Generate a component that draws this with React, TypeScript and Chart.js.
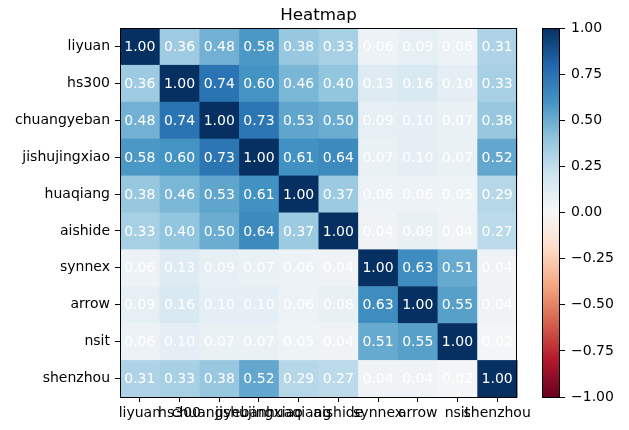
import React, { useEffect, useRef } from 'react';
import { Chart, registerables } from 'chart.js';

Chart.register(...registerables);

const titleText = 'Heatmap';
const labels = ['liyuan', 'hs300', 'chuangyeban', 'jishujingxiao', 'huaqiang', 'aishide', 'synnex', 'arrow', 'nsit', 'shenzhou'];

const rowLiyuan = [1.0, 0.36, 0.48, 0.58, 0.38, 0.33, 0.06, 0.09, 0.06, 0.31];
const rowHs300 = [0.36, 1.0, 0.74, 0.6, 0.46, 0.4, 0.13, 0.16, 0.1, 0.33];
const rowChuangyeban = [0.48, 0.74, 1.0, 0.73, 0.53, 0.5, 0.09, 0.1, 0.07, 0.38];
const rowJishujingxiao = [0.58, 0.6, 0.73, 1.0, 0.61, 0.64, 0.07, 0.1, 0.07, 0.52];
const rowHuaqiang = [0.38, 0.46, 0.53, 0.61, 1.0, 0.37, 0.06, 0.06, 0.05, 0.29];
const rowAishide = [0.33, 0.4, 0.5, 0.64, 0.37, 1.0, 0.04, 0.08, 0.04, 0.27];
const rowSynnex = [0.06, 0.13, 0.09, 0.07, 0.06, 0.04, 1.0, 0.63, 0.51, 0.04];
const rowArrow = [0.09, 0.16, 0.1, 0.1, 0.06, 0.08, 0.63, 1.0, 0.55, 0.04];
const rowNsit = [0.06, 0.1, 0.07, 0.07, 0.05, 0.04, 0.51, 0.55, 1.0, 0.02];
const rowShenzhou = [0.31, 0.33, 0.38, 0.52, 0.29, 0.27, 0.04, 0.04, 0.02, 1.0];

const matrix = [rowLiyuan, rowHs300, rowChuangyeban, rowJishujingxiao, rowHuaqiang, rowAishide, rowSynnex, rowArrow, rowNsit, rowShenzhou];

const colorbarTicks = [-1.0, -0.75, -0.5, -0.25, 0.0, 0.25, 0.5, 0.75, 1.0];

const RDBU = ['#67001f', '#b2182b', '#d6604d', '#f4a582', '#fddbc7', '#f7f7f7', '#d1e5f0', '#92c5de', '#4393c3', '#2166ac', '#053061'];

function hexToRgb(h: string) {
  const n = parseInt(h.slice(1), 16);
  return [(n >> 16) & 255, (n >> 8) & 255, n & 255];
}

function rdbu(v: number) {
  let t = (v + 1) / 2;
  t = Math.max(0, Math.min(1, t));
  const pos = t * (RDBU.length - 1);
  const i = Math.min(Math.floor(pos), RDBU.length - 2);
  const f = pos - i;
  const a = hexToRgb(RDBU[i]);
  const b = hexToRgb(RDBU[i + 1]);
  const c = a.map((x, k) => Math.round(x + (b[k] - x) * f));
  return `rgb(${c[0]},${c[1]},${c[2]})`;
}

const FONT = 'DejaVu Sans';

const heatPlugin = {
  id: 'heatPlugin',
  beforeDatasetsDraw(chart: any) {
    const { ctx } = chart;
    const xs = chart.scales.x;
    const ys = chart.scales.y;
    const pts = chart.data.datasets[0].data as any[];
    ctx.save();
    for (const p of pts) {
      const xi = labels.indexOf(p.x);
      const yi = labels.indexOf(p.y);
      const x0 = xs.getPixelForValue(xi - 0.5);
      const x1 = xs.getPixelForValue(xi + 0.5);
      const y0 = ys.getPixelForValue(yi - 0.5);
      const y1 = ys.getPixelForValue(yi + 0.5);
      ctx.fillStyle = rdbu(p.v);
      const l = Math.min(x0, x1), t = Math.min(y0, y1);
      ctx.fillRect(l, t, Math.abs(x1 - x0) + 0.5, Math.abs(y1 - y0) + 0.5);
    }
    ctx.fillStyle = '#ffffff';
    ctx.font = `14px "${FONT}"`;
    ctx.textAlign = 'center';
    ctx.textBaseline = 'middle';
    for (const p of pts) {
      const xi = labels.indexOf(p.x);
      const yi = labels.indexOf(p.y);
      ctx.fillText(p.v.toFixed(2), xs.getPixelForValue(xi), ys.getPixelForValue(yi) + 1);
    }
    ctx.restore();
  },
  afterDraw(chart: any) {
    const { ctx, chartArea: a } = chart;
    ctx.save();
    ctx.strokeStyle = '#000';
    ctx.lineWidth = 1;
    ctx.strokeRect(Math.round(a.left) + 0.5, Math.round(a.top) + 0.5, Math.round(a.right - a.left) - 1, Math.round(a.bottom - a.top));
    ctx.fillStyle = '#000';
    ctx.font = `16.7px "${FONT}"`;
    ctx.textAlign = 'center';
    ctx.textBaseline = 'alphabetic';
    ctx.fillText(titleText, (a.left + a.right) / 2, 20);
    ctx.restore();
  },
};

const cbPlugin = {
  id: 'cbPlugin',
  beforeDatasetsDraw(chart: any) {
    const { ctx, chartArea: a } = chart;
    const g = ctx.createLinearGradient(0, a.bottom, 0, a.top);
    RDBU.forEach((c, i) => g.addColorStop(i / (RDBU.length - 1), c));
    ctx.save();
    ctx.fillStyle = g;
    ctx.fillRect(a.left, a.top, a.right - a.left, a.bottom - a.top);
    ctx.restore();
  },
  afterDraw(chart: any) {
    const { ctx, chartArea: a } = chart;
    ctx.save();
    ctx.strokeStyle = '#000';
    ctx.lineWidth = 1;
    ctx.strokeRect(Math.round(a.left) + 0.5, Math.round(a.top) + 0.5, Math.round(a.right - a.left) - 1, Math.round(a.bottom - a.top));
    ctx.restore();
  },
};

export default function App() {
  const mainRef = useRef<HTMLCanvasElement>(null);
  const cbRef = useRef<HTMLCanvasElement>(null);

  useEffect(() => {
    const points: any[] = [];
    matrix.forEach((row, i) => {
      row.forEach((v, j) => {
        points.push({ x: labels[j], y: labels[i], v });
      });
    });
    const tickFont = { family: FONT, size: 14 };
    const main = new Chart(mainRef.current as HTMLCanvasElement, {
      type: 'scatter',
      data: { datasets: [{ data: points, pointRadius: 0, pointHoverRadius: 0 } as any] },
      options: {
        responsive: false,
        animation: false,
        events: [],
        layout: { padding: { left: 0, right: 112, top: 28, bottom: 0 } },
        plugins: { legend: { display: false }, tooltip: { enabled: false }, title: { display: false } },
        scales: {
          x: {
            type: 'category',
            labels,
            offset: true,
            position: 'bottom',
            grid: { offset: false, drawOnChartArea: false, drawTicks: true, tickLength: 5, color: '#000' },
            border: { display: false },
            ticks: { autoSkip: false, maxRotation: 0, minRotation: 0, padding: 3, color: '#000', font: tickFont },
            afterFit: (s: any) => { s.height = 33; },
          } as any,
          y: {
            type: 'category',
            labels,
            offset: true,
            position: 'left',
            grid: { offset: false, drawOnChartArea: false, drawTicks: true, tickLength: 5, color: '#000' },
            border: { display: false },
            ticks: { autoSkip: false, padding: 5, color: '#000', font: tickFont },
            afterFit: (s: any) => { s.width = 120; },
          } as any,
        },
      },
      plugins: [heatPlugin],
    });

    const cb = new Chart(cbRef.current as HTMLCanvasElement, {
      type: 'scatter',
      data: { datasets: [{ data: [], pointRadius: 0 } as any] },
      options: {
        responsive: false,
        animation: false,
        events: [],
        layout: { padding: { left: 12, right: 9, top: 28, bottom: 33 } },
        plugins: { legend: { display: false }, tooltip: { enabled: false } },
        scales: {
          x: { display: false, min: 0, max: 1 },
          y: {
            type: 'linear',
            position: 'right',
            min: -1,
            max: 1,
            grid: { drawOnChartArea: false, drawTicks: true, tickLength: 5, color: '#000' },
            border: { display: false },
            afterBuildTicks: (s: any) => { s.ticks = colorbarTicks.map((v) => ({ value: v })); },
            ticks: {
              padding: 6,
              color: '#000',
              font: tickFont,
              callback: (v: any) => (Number(v) < 0 ? '\u2212' : '') + Math.abs(Number(v)).toFixed(2),
            },
            afterFit: (s: any) => { s.width = 60; },
          } as any,
        },
      },
      plugins: [cbPlugin],
    });

    return () => {
      main.destroy();
      cb.destroy();
    };
  }, []);

  return (
    <div style={{ position: 'fixed', left: 0, top: 0, width: 629, height: 430, background: '#fff' }}>
      <canvas ref={mainRef} width={629} height={430} style={{ position: 'absolute', left: 0, top: 0 }} />
      <canvas ref={cbRef} width={99} height={430} style={{ position: 'absolute', left: 530, top: 0 }} />
    </div>
  );
}
